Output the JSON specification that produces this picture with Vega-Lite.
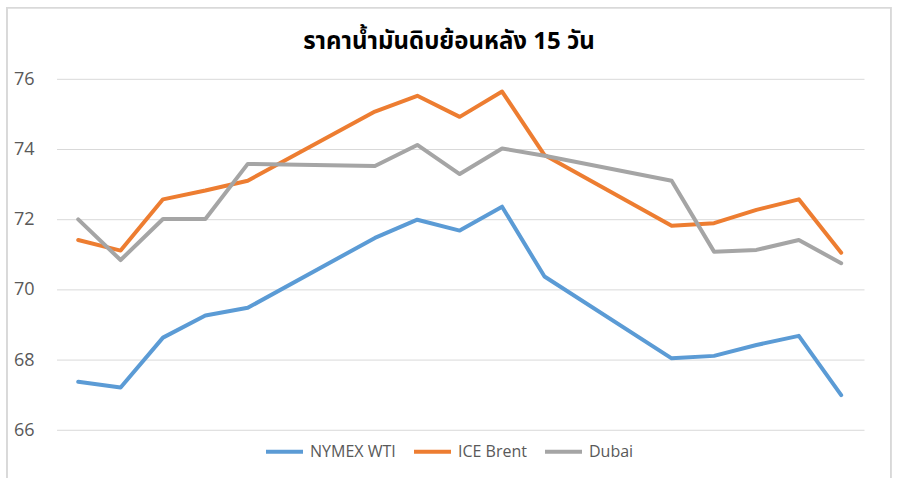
{
  "$schema": "https://vega.github.io/schema/vega-lite/v6.json",
  "width": 884,
  "height": 484,
  "autosize": {"type": "none"},
  "padding": {"left": 7, "top": 7, "right": 8, "bottom": 1},
  "background": "white",
  "title": {
    "text": "ราคาน้ำมันดิบย้อนหลัง 15 วัน",
    "font": "Noto Sans Thai, Noto Sans, DejaVu Sans, sans-serif",
    "fontSize": 24,
    "fontWeight": "bold",
    "color": "#000000",
    "anchor": "middle",
    "baseline": "alphabetic",
    "offset": -42.5,
    "dy": 24
  },
  "config": {
    "view": {"stroke": null},
    "legend": {
      "orient": "none",
      "legendX": 257,
      "legendY": 424,
      "direction": "horizontal",
      "symbolType": "stroke",
      "symbolSize": 1369,
      "symbolStrokeWidth": 4,
      "labelFontSize": 16,
      "labelFont": "Open Sans",
      "labelColor": "#595959",
      "labelOffset": 5,
      "columnPadding": 10,
      "padding": 0
    }
  },
  "datasets": {
    "grid": [{"g": 66}, {"g": 68}, {"g": 70}, {"g": 72}, {"g": 74}, {"g": 76}],
    "prices": [
      {"d": 0, "series": "NYMEX WTI", "price": 67.38},
      {"d": 1, "series": "NYMEX WTI", "price": 67.22},
      {"d": 2, "series": "NYMEX WTI", "price": 68.64},
      {"d": 3, "series": "NYMEX WTI", "price": 69.27},
      {"d": 4, "series": "NYMEX WTI", "price": 69.49},
      {"d": 7, "series": "NYMEX WTI", "price": 71.48},
      {"d": 8, "series": "NYMEX WTI", "price": 72.0},
      {"d": 9, "series": "NYMEX WTI", "price": 71.69},
      {"d": 10, "series": "NYMEX WTI", "price": 72.37},
      {"d": 11, "series": "NYMEX WTI", "price": 70.38},
      {"d": 14, "series": "NYMEX WTI", "price": 68.05},
      {"d": 15, "series": "NYMEX WTI", "price": 68.12},
      {"d": 16, "series": "NYMEX WTI", "price": 68.43},
      {"d": 17, "series": "NYMEX WTI", "price": 68.69},
      {"d": 18, "series": "NYMEX WTI", "price": 67.0},
      {"d": 0, "series": "ICE Brent", "price": 71.42},
      {"d": 1, "series": "ICE Brent", "price": 71.12},
      {"d": 2, "series": "ICE Brent", "price": 72.58},
      {"d": 3, "series": "ICE Brent", "price": 72.83},
      {"d": 4, "series": "ICE Brent", "price": 73.11},
      {"d": 7, "series": "ICE Brent", "price": 75.08},
      {"d": 8, "series": "ICE Brent", "price": 75.53},
      {"d": 9, "series": "ICE Brent", "price": 74.93},
      {"d": 10, "series": "ICE Brent", "price": 75.65},
      {"d": 11, "series": "ICE Brent", "price": 73.84},
      {"d": 14, "series": "ICE Brent", "price": 71.83},
      {"d": 15, "series": "ICE Brent", "price": 71.9},
      {"d": 16, "series": "ICE Brent", "price": 72.28},
      {"d": 17, "series": "ICE Brent", "price": 72.58},
      {"d": 18, "series": "ICE Brent", "price": 71.06},
      {"d": 0, "series": "Dubai", "price": 72.01},
      {"d": 1, "series": "Dubai", "price": 70.85},
      {"d": 2, "series": "Dubai", "price": 72.02},
      {"d": 3, "series": "Dubai", "price": 72.02},
      {"d": 4, "series": "Dubai", "price": 73.59},
      {"d": 7, "series": "Dubai", "price": 73.53},
      {"d": 8, "series": "Dubai", "price": 74.13},
      {"d": 9, "series": "Dubai", "price": 73.3},
      {"d": 10, "series": "Dubai", "price": 74.03},
      {"d": 11, "series": "Dubai", "price": 73.82},
      {"d": 14, "series": "Dubai", "price": 73.11},
      {"d": 15, "series": "Dubai", "price": 71.09},
      {"d": 16, "series": "Dubai", "price": 71.14},
      {"d": 17, "series": "Dubai", "price": 71.42},
      {"d": 18, "series": "Dubai", "price": 70.76}
    ]
  },
  "layer": [
    {
      "data": {"name": "grid"},
      "mark": {"type": "rule", "color": "#D9D9D9", "strokeWidth": 1},
      "encoding": {
        "y": {"field": "g", "type": "quantitative", "scale": {"domain": [64.27, 78.06], "nice": false, "zero": false},
          "axis": {"values": [66, 68, 70, 72, 74, 76], "domain": false, "ticks": false, "tickSize": 0, "grid": false, "labelPadding": -27, "labelFontSize": 18, "labelFont": "Open Sans", "labelColor": "#595959", "labelOverlap": false, "labelFlush": false, "title": null}},
        "x": {"datum": -0.5, "type": "quantitative", "scale": {"domain": [-1.68, 19.175], "nice": false, "zero": false}, "axis": null},
        "x2": {"datum": 18.55}
      }
    },
    {
      "data": {"name": "grid"},
      "mark": {"type": "rule", "color": "#D9D9D9", "strokeWidth": 1},
      "encoding": {
        "x": {"datum": -1.68, "type": "quantitative"},
        "y": {"datum": 64.64, "type": "quantitative"},
        "y2": {"datum": 78.06}
      }
    },
    {
      "data": {"name": "grid"},
      "mark": {"type": "rule", "color": "#D9D9D9", "strokeWidth": 1},
      "encoding": {
        "x": {"datum": 19.17, "type": "quantitative"},
        "y": {"datum": 64.64, "type": "quantitative"},
        "y2": {"datum": 78.06}
      }
    },
    {
      "data": {"name": "grid"},
      "mark": {"type": "rule", "color": "#D9D9D9", "strokeWidth": 1},
      "encoding": {
        "y": {"datum": 78.04, "type": "quantitative"},
        "x": {"datum": -1.68, "type": "quantitative"},
        "x2": {"datum": 19.175}
      }
    },
    {
      "data": {"name": "prices"},
      "mark": {"type": "line", "strokeWidth": 4, "strokeCap": "round", "strokeJoin": "round"},
      "encoding": {
        "x": {"field": "d", "type": "quantitative"},
        "y": {"field": "price", "type": "quantitative"},
        "color": {
          "field": "series",
          "type": "nominal",
          "sort": ["NYMEX WTI", "ICE Brent", "Dubai"],
          "scale": {"domain": ["NYMEX WTI", "ICE Brent", "Dubai"], "range": ["#5B9BD5", "#ED7D31", "#A5A5A5"]},
          "legend": {"title": null}
        }
      }
    }
  ]
}
